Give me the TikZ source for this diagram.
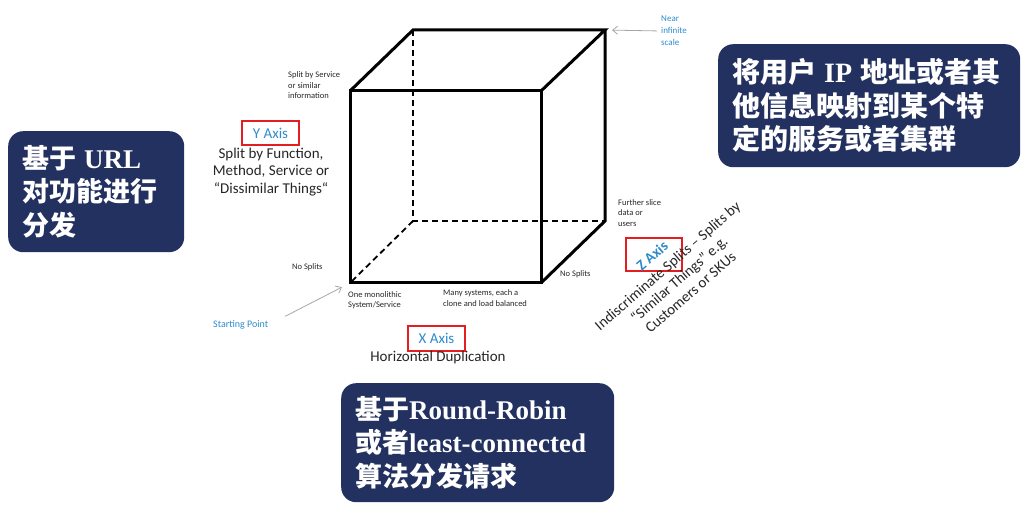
\documentclass[tikz,border=0pt]{standalone}
\usepackage{fontspec}
\setmainfont{Carlito}
\newfontfamily\cjk{Noto Sans CJK SC}
\newfontfamily\tnr{Liberation Serif}
\usepackage{xcolor}
\usetikzlibrary{arrows.meta,calc}
\definecolor{NoteNavy}{HTML}{22315F}
\definecolor{AxisRed}{HTML}{E41E20}
\definecolor{AxisBlue}{HTML}{2E8BCB}
\definecolor{PointerGray}{HTML}{A6A6A6}
\definecolor{LabelText}{HTML}{262626}
\newcommand{\lat}[1]{{\tnr\bfseries #1}}
\newcommand{\gap}{\hspace{8pt}}
\newcommand{\smallnote}[3]{\node[anchor=west,inner sep=0,align=left,text=LabelText,font=\fontsize{8.5}{10.5}\selectfont] (#1) at (#2) {#3};}
\newcommand{\notebox}[6]{\node[notebox,minimum width=#3,minimum height=#4,text width=#3-28,font=\cjk\bfseries\fontsize{#5}{33.5}\selectfont] (#1) at (#2) {#6};}

\begin{document}
\begin{tikzpicture}[x=1pt,y=-1pt,
  notebox/.style={fill=NoteNavy,rounded corners=15pt,text=white,align=left,anchor=north west,inner xsep=14pt,inner ysep=0pt},
  axisbox/.style={draw=AxisRed,line width=2.5pt,text=AxisBlue,inner sep=0pt,font=\fontsize{15}{17.5}\selectfont},
  edge/.style={line width=3pt,line join=miter},
  hidden/.style={line width=1.8pt,dash pattern=on 6pt off 4pt},
  pointer/.style={draw=PointerGray,line width=0.8pt,-{Straight Barb[length=5pt,width=8pt]}},
  label/.style={text=LabelText,align=center,inner sep=0pt,font=\fontsize{15}{17.5}\selectfont}]
  \useasboundingbox (0,0) rectangle (1032,518);
  % cube corners
  \coordinate (ftl) at (350,91);
  \coordinate (ftr) at (541,91);
  \coordinate (fbl) at (350,283);
  \coordinate (fbr) at (541,283);
  \coordinate (btl) at (413,30);
  \coordinate (btr) at (605,30);
  \coordinate (bbl) at (413,221);
  \coordinate (bbr) at (605,221);
  \draw[hidden] (btl) -- (bbl) -- (bbr);
  \draw[hidden] (bbl) -- (fbl);
  \draw[edge] (ftl) rectangle (fbr);
  \draw[edge] (ftl) -- (btl) -- (btr) -- (ftr);
  \draw[edge] (btr) -- (bbr) -- (fbr);
  % small notes round the cube
  \smallnote{svcnote}{288,85.5}{Split by Service\\or similar\\information}
  \smallnote{nosplity}{292,267}{No Splits}
  \smallnote{nosplitz}{560,274}{No Splits}
  \smallnote{mononote}{348,300}{One monolithic\\System/Service}
  \smallnote{clonenote}{443,298}{Many systems, each a\\clone and load balanced}
  \smallnote{slicenote}{618,213}{Further slice\\data or\\users}
  \node[anchor=west,inner sep=0,align=left,text=AxisBlue,font=\fontsize{9}{12}\selectfont] (nearinf) at (661,31) {Near\\infinite\\scale};
  \node[anchor=west,inner sep=0,text=AxisBlue,font=\fontsize{10}{12}\selectfont] (startpt) at (213,325) {Starting Point};
  \draw[pointer,shorten <=4pt,shorten >=7pt] (nearinf.west) -- (btr);
  \draw[pointer,shorten <=19pt,shorten >=9pt] (startpt.east) -- (fbl);
  % axes
  \node[axisbox,minimum width=57,minimum height=24] (yaxis) at (270.5,133) {Y Axis};
  \node[label] (ydesc) at (271,172) {Split by Function,\\Method, Service or\\“Dissimilar Things“};
  \node[axisbox,minimum width=57,minimum height=25] (xaxis) at (436.5,338.5) {X Axis};
  \node[label] (xdesc) at (438,358) {Horizontal Duplication};
  \node[axisbox,minimum width=56,minimum height=33] (zbox) at (654,254.5) {};
  \node[rotate=41,inner sep=0,text=AxisBlue,font=\bfseries\fontsize{15}{17.5}\selectfont] (zaxis) at (652,256) {Z Axis};
  \node[label,rotate=41] (zdesc) at (679,279) {Indiscriminate Splits – Splits by\\“Similar Things” e.g.\\Customers or SKUs};
  % dispatch notes
  \notebox{urlnote}{8,131}{176}{121}{27}{基于\gap\lat{URL}\\对功能进行\\分发}
  \notebox{ipnote}{718,44}{302}{123}{28}{将用户\gap\lat{IP}\gap 地址或者其\\他信息映射到某个特\\定的服务或者集群}
  \notebox{rrnote}{341,383}{273}{119}{27}{基于\lat{Round-Robin}\\或者\lat{least-connected}\\算法分发请求}
\end{tikzpicture}
\end{document}
